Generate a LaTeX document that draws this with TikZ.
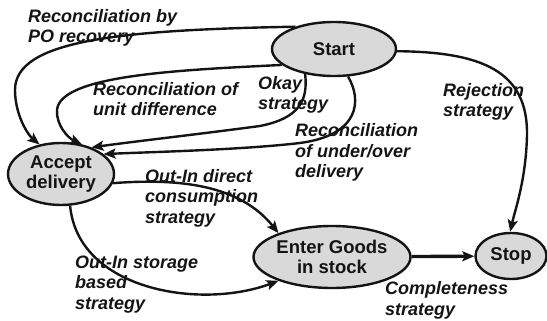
\documentclass[tikz,border=0pt]{standalone}
\usepackage{fontspec}
\setmainfont{Liberation Sans}
\usetikzlibrary{shapes.geometric,arrows.meta}
\definecolor{nodegray}{RGB}{217,217,217}
\definecolor{ink}{RGB}{20,20,20}
\begin{document}
\begin{tikzpicture}[x=1pt,y=-1pt,
  state/.style={ellipse,draw=ink,line width=2.4pt,fill=nodegray,inner sep=0pt,text=ink,
    font=\fontsize{18.5}{19.5}\selectfont\bfseries,align=center},
  lab/.style={font=\fontsize{18}{20.5}\selectfont\bfseries\itshape,align=left,inner sep=0pt,anchor=base west,text=ink},
  edge/.style={draw=ink,line width=2.4pt,-{Stealth[length=12pt,width=10pt,inset=2.5pt]}},
]
\useasboundingbox (0,0) rectangle (547,321);
\node[state,minimum width=124pt,minimum height=54pt] (Start) at (334,49) {Start};
\node[state,minimum width=106pt,minimum height=62pt] (Accept) at (61,174) {Accept\\delivery};
\node[state,minimum width=144pt,minimum height=62pt] (Enter) at (332,257) {Enter Goods\\in stock};
\node[state,minimum width=71pt,minimum height=46pt] (Stop) at (511,256) {Stop};

\draw[edge] (Start.150) .. controls (120,30) and (15,40) .. (15,90) .. controls (15,115) and (28,135) .. (Accept.126);
\draw[edge] (Start.197) .. controls (180,70) and (60,75) .. (57,110) .. controls (56,125) and (68,138) .. (Accept.55);
\draw[edge] (Start.221) .. controls (308,100) and (300,118) .. (260,126) .. controls (200,134) and (130,142) .. (Accept.41);
\draw[edge] (Start.297) .. controls (362,100) and (360,135) .. (300,143) .. controls (240,150) and (150,152) .. (Accept.25);
\draw[edge] (Start.358) .. controls (480,52) and (528,70) .. (527,135) .. controls (526,180) and (515,210) .. (Stop.92);
\draw[edge] (Accept.350) .. controls (180,178) and (240,185) .. (Enter.156);
\draw[edge] (Accept.286) .. controls (78,290) and (200,310) .. (Enter.204);
\draw[edge,line width=3.4pt] (Enter) -- (Stop);

\node[lab] (l1) at (28,43) {Reconciliation by\\PO recovery};
\node[lab] (l2) at (258,110) {Okay\\strategy};
\node[lab] (l3) at (93,116) {Reconciliation of\\unit difference};
\node[lab] (l4) at (295,178) {Reconciliation\\of under/over\\delivery};
\node[lab] (l5) at (443,117) {Rejection\\strategy};
\node[lab] (l6) at (145,223) {Out-In direct\\consumption\\strategy};
\node[lab] (l7) at (75,309) {Out-In storage\\based\\strategy};
\node[lab] (l8) at (385,315) {Completeness\\strategy};
\end{tikzpicture}
\end{document}
